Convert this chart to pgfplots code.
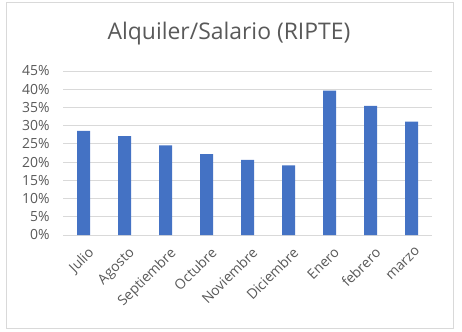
\documentclass[border=0pt]{standalone}
\usepackage{pgfplots}
\pgfplotsset{compat=1.18}
\usepackage{fontspec}
\setmainfont{Open Sans}
\definecolor{txt}{HTML}{595959}
\definecolor{grid}{HTML}{D9D9D9}
\definecolor{bar}{HTML}{4472C4}
\begin{document}
\begin{tikzpicture}[x=1bp,y=1bp]
\path (0,0) rectangle (462,331);
\draw[color=grid,line width=0.8bp] (6,3) rectangle (453,329);
\node[color=txt,font=\fontsize{23}{26}\selectfont] at (229,297) {Alquiler/Salario (RIPTE)};
\begin{axis}[
  at={(63bp,96bp)}, anchor=south west,
  scale only axis, width=369bp, height=164bp,
  xmin=-0.5, xmax=8.5, ymin=0, ymax=45,
  axis line style={draw=none},
  ytick={0,5,...,45}, yticklabel={\pgfmathprintnumber{\tick}\%},
  xtick=data,
  xticklabels={Julio,Agosto,Septiembre,Octubre,Noviembre,Diciembre,Enero,febrero,marzo},
  xticklabel style={rotate=45, anchor=north east, font=\fontsize{14}{16}\selectfont, color=txt, xshift=1bp, yshift=-4bp},
  yticklabel style={font=\fontsize{14}{16}\selectfont, color=txt, xshift=-10bp},
  /pgf/number format/assume math mode=true,
  tick style={draw=none},
  ymajorgrids, grid style={color=grid, line width=0.8bp},
  ybar, bar width=13bp,
]
\addplot[fill=bar, draw=none] coordinates {(0,28.6) (1,27.1) (2,24.6) (3,22.2) (4,20.6) (5,19.1) (6,39.6) (7,35.4) (8,31.1)};
\end{axis}
\end{tikzpicture}
\end{document}
